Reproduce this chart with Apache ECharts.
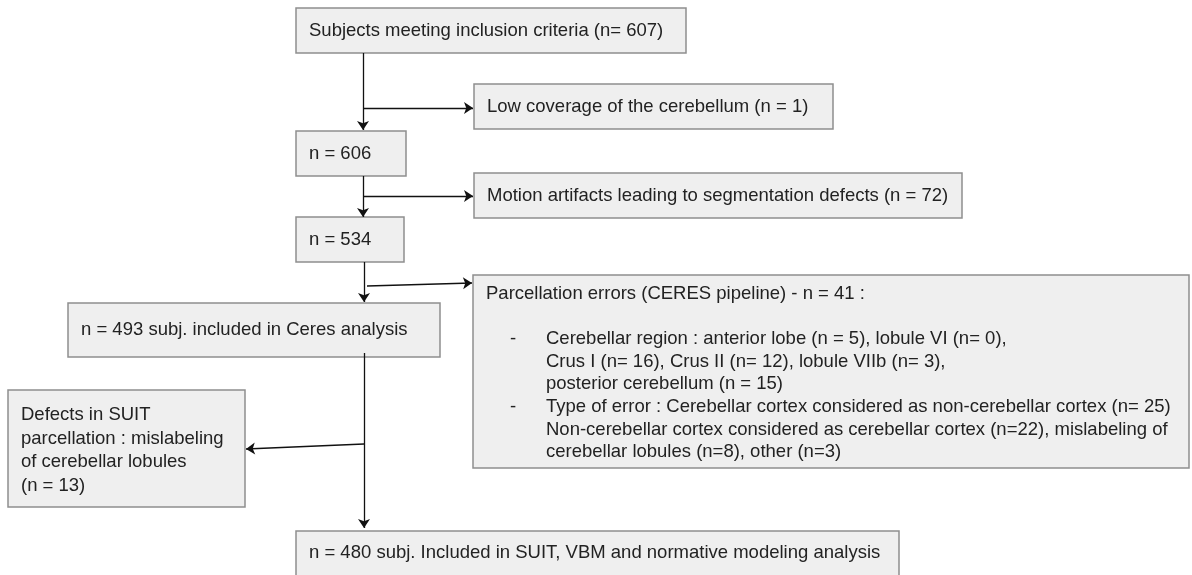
<!DOCTYPE html>
<html>
<head>
<meta charset="utf-8">
<script src="https://cdn.jsdelivr.net/npm/echarts@6/dist/echarts.min.js"></script>
<style>
  html, body { margin: 0; padding: 0; background: #fff; }
  #chart { width: 1192px; height: 575px; }
</style>
</head>
<body>
<div id="chart"></div>
<script>
// flow chart content (text of each box)
const boxTexts = [
  ['Subjects meeting inclusion criteria (n= 607)'],
  ['Low coverage of the cerebellum (n = 1)'],
  ['n = 606'],
  ['Motion artifacts leading to segmentation defects (n = 72)'],
  ['n = 534'],
  ['n = 493 subj. included in Ceres analysis'],
  ['Parcellation errors (CERES pipeline) - n = 41 :',
   '',
   '-\tCerebellar region : anterior lobe (n = 5), lobule VI (n= 0),',
   '\tCrus I (n= 16), Crus II (n= 12), lobule VIIb (n= 3),',
   '\tposterior cerebellum (n = 15)',
   '-\tType of error : Cerebellar cortex considered as non-cerebellar cortex (n= 25)',
   '\tNon-cerebellar cortex considered as cerebellar cortex (n=22), mislabeling of',
   '\tcerebellar lobules (n=8), other (n=3)'],
  ['Defects in SUIT', 'parcellation : mislabeling', 'of cerebellar lobules', '(n = 13)'],
  ['n = 480 subj. Included in SUIT, VBM and normative modeling analysis']
];

// box layout in pixel units: x0, y0, x1, y1, first text line y, line height
const boxLayout = [
  [296, 8, 686, 53, 31, 0],
  [474, 84, 833, 129, 107, 0],
  [296, 131, 406, 176, 154, 0],
  [474, 173, 962, 218, 196, 0],
  [296, 217, 404, 262, 240, 0],
  [68, 303, 440, 357, 330, 0],
  [473, 275, 1189, 468, 294, 22.6],
  [8, 390, 245, 507, 415, 23.5],
  [296, 531, 899, 585, 553, 0]
];

// connectors: [x0, y0, x1, y1]
const arrows = [
  [363, 53, 363, 130],
  [363, 108, 473, 108],
  [363, 176, 363, 217],
  [363, 196, 473, 196],
  [364, 262, 364, 302],
  [367, 286, 472, 283],
  [364, 353, 364, 528],
  [364, 444, 246, 449]
];

const chart = echarts.init(document.getElementById('chart'));

const FONT = '"Liberation Sans", Arial, sans-serif';
const FS = 18.5;

function renderBox(params, api) {
  const i = api.value(4);
  const lay = boxLayout[i];
  const p0 = api.coord([lay[0], lay[1]]);
  const p1 = api.coord([lay[2], lay[3]]);
  const children = [{
    type: 'rect',
    shape: { x: p0[0], y: p0[1], width: p1[0] - p0[0], height: p1[1] - p0[1] },
    style: { fill: '#efefef', stroke: '#8f8f8f', lineWidth: 1.5 }
  }];
  boxTexts[i].forEach(function (line, k) {
    const y = api.coord([0, lay[4] + k * lay[5]])[1];
    const parts = line.split('\t');
    let x = p0[0] + 13;
    if (parts.length > 1) {
      if (parts[0]) {
        children.push({
          type: 'text',
          style: { text: parts[0], x: p0[0] + 37, y: y, fill: '#222', fontSize: FS, fontFamily: FONT, verticalAlign: 'middle' }
        });
      }
      x = p0[0] + 73;
      line = parts[1];
    }
    children.push({
      type: 'text',
      style: { text: line, x: x, y: y, fill: '#222', fontSize: FS, fontFamily: FONT, verticalAlign: 'middle' }
    });
  });
  return { type: 'group', children: children };
}

const option = {
  animation: false,
  grid: { left: 0, right: 0, top: 0, bottom: 0 },
  xAxis: { type: 'value', min: 0, max: 1192, show: false },
  yAxis: { type: 'value', min: 0, max: 575, inverse: true, show: false },
  series: [{
    type: 'custom',
    renderItem: renderBox,
    data: boxLayout.map(function (b, i) { return [b[0], b[1], b[2], b[3], i]; }),
    clip: false
  }, {
    type: 'lines',
    coordinateSystem: 'cartesian2d',
    symbol: ['none', 'arrow'],
    symbolSize: 9,
    lineStyle: { color: '#111', width: 1.3, opacity: 1 },
    data: arrows.map(function (a) { return { coords: [[a[0], a[1]], [a[2], a[3]]] }; })
  }]
};

chart.setOption(option);
</script>
</body>
</html>
